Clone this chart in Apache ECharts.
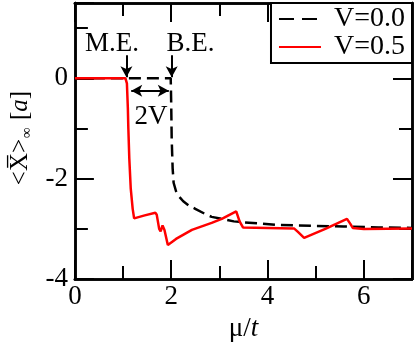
<!DOCTYPE html>
<html>
<head>
<meta charset="utf-8">
<script src="https://cdn.jsdelivr.net/npm/echarts@6/dist/echarts.min.js"></script>
<style>
	html, body { margin: 0; padding: 0; background: #fff; }
	#chart { width: 415px; height: 347px; }
</style>
</head>
<body>
<div id="chart"></div>
<script>
// V = 0.0 (black dashed)
const v00 = [
	[0, 0], [1.99, 0], [2.0, -0.5], [2.01, -1.2], [2.03, -1.8], [2.05, -2.08],
	[2.1, -2.25], [2.15, -2.34], [2.25, -2.45], [2.36, -2.53], [2.5, -2.6],
	[2.7, -2.7], [2.84, -2.76], [3.05, -2.8], [3.3, -2.85], [3.52, -2.87],
	[4.2, -2.92], [5.0, -2.94], [5.58, -2.95], [6.3, -2.97], [7.0, -2.98]
];

// V = 0.5 (red)
const v05 = [
	[0, 0], [1.05, 0], [1.08, -0.1], [1.1, -0.6], [1.11, -1.0], [1.13, -1.6],
	[1.16, -2.2], [1.2, -2.6], [1.23, -2.79], [1.45, -2.73], [1.67, -2.68],
	[1.7, -2.72], [1.75, -3.0], [1.78, -3.05], [1.82, -2.93], [1.86, -3.02],
	[1.93, -3.32], [2.1, -3.2], [2.43, -3.02], [2.84, -2.88], [3.05, -2.8],
	[3.35, -2.65], [3.42, -2.85], [3.49, -2.97], [4.0, -2.98], [4.55, -2.99],
	[4.62, -3.05], [4.76, -3.18], [5.2, -3.0], [5.65, -2.8], [5.72, -2.9],
	[5.77, -2.98], [6.0, -3.0], [7.0, -2.99]
];

// annotation arrows and texts, in data units
const arrowME = [[1.07, 0.46], [1.07, 0.02]];
const arrowBE = [[2.01, 0.46], [2.01, 0.02]];
const arrow2V = [[1.17, -0.25], [1.95, -0.25]];
const notes = [
	{ text: 'M.E.', at: [0.77, 0.68] },
	{ text: 'B.E.', at: [2.40, 0.68] },
	{ text: '2V', at: [1.58, -0.76] }
];

const FONT = 'Liberation Serif';
const INK = '#000';

function tickAxis(pos, interval, len, isX, extra) {
	const ax = {
		type: 'value',
		position: pos,
		min: isX ? 0 : -4,
		max: isX ? 7 : 1.5,
		interval: interval,
		axisLine: { show: true, onZero: false, lineStyle: { color: INK, width: 2.5 } },
		axisTick: { show: true, inside: true, length: len, lineStyle: { color: INK, width: 2 } },
		axisLabel: { show: false },
		splitLine: { show: false }
	};
	return Object.assign(ax, extra || {});
}

const chart = echarts.init(document.getElementById('chart'));

chart.setOption({
	animation: false,
	backgroundColor: '#fff',
	textStyle: { fontFamily: FONT },
	grid: { left: 72, right: 3, top: 3, bottom: 61, containLabel: false },
	legend: {
		top: 3,
		right: 3,
		orient: 'vertical',
		align: 'left',
		itemWidth: 42,
		itemHeight: 14,
		itemGap: 0,
		itemStyle: { opacity: 0 },
		padding: [2, 7, 2, 7],
		borderColor: INK,
		borderWidth: 2,
		backgroundColor: '#fff',
		textStyle: { fontFamily: FONT, fontSize: 28, color: INK, lineHeight: 27, padding: [0, 0, 0, 8] },
		data: [
			{ name: 'V=0.0', lineStyle: { type: [15, 8] } },
			{ name: 'V=0.5' }
		]
	},
	xAxis: [
		tickAxis('bottom', 2, 19, true, {
			axisLabel: {
				show: true, margin: 4, fontFamily: FONT, fontSize: 27, color: INK,
				formatter: v => (v === 7 ? '' : String(v))
			},
			name: 'μ/{it|t}',
			nameLocation: 'middle',
			nameGap: 32,
			nameTextStyle: {
				fontFamily: FONT, fontSize: 27, color: INK,
				rich: { it: { fontFamily: FONT, fontSize: 27, fontStyle: 'italic', color: INK } }
			}
		}),
		tickAxis('bottom', 1, 13, true),
		tickAxis('top', 2, 19, true),
		tickAxis('top', 1, 13, true)
	],
	yAxis: [
		tickAxis('left', 2, 19, false, {
			axisLabel: {
				show: true, margin: 7, fontFamily: FONT, fontSize: 27, color: INK,
				formatter: v => (v === 1.5 ? '' : String(v))
			},
			name: '<{ov|X\u0305}>{sub|∞} [{it|a}]',
			nameLocation: 'middle',
			nameRotate: 90,
			nameGap: 40,
			nameTextStyle: {
				fontFamily: FONT, fontSize: 25, color: INK, padding: [0, 0, 0, 6],
				rich: {
					ov: { fontFamily: FONT, fontSize: 25, color: INK },
					sub: { fontFamily: FONT, fontSize: 15, color: INK, verticalAlign: 'bottom', padding: [13, 1, 0, 1] },
					it: { fontFamily: FONT, fontSize: 25, fontStyle: 'italic', color: INK }
				}
			}
		}),
		tickAxis('left', 1, 13, false),
		tickAxis('right', 2, 19, false),
		tickAxis('right', 1, 13, false)
	],
	series: [
		{
			name: 'V=0.0',
			type: 'line',
			data: v00,
			showSymbol: false,
			symbol: 'none',
			lineStyle: { color: INK, width: 2.5, type: [12, 6] },
			itemStyle: { color: INK },
			markLine: {
				silent: true,
				symbol: ['none', 'arrow'],
				symbolSize: [9, 11],
				label: { show: false },
				lineStyle: { color: INK, width: 2, type: 'solid' },
				data: [
					[{ coord: arrowME[0] }, { coord: arrowME[1] }],
					[{ coord: arrowBE[0] }, { coord: arrowBE[1] }],
					[{ coord: arrow2V[0], symbol: 'arrow' }, { coord: arrow2V[1], symbol: 'arrow' }]
				]
			},
			markPoint: {
				silent: true,
				symbol: 'rect',
				symbolSize: 1,
				itemStyle: { color: 'rgba(0,0,0,0)' },
				label: {
					show: true, position: 'inside', fontFamily: FONT, fontSize: 27, color: INK,
					formatter: p => p.data.name
				},
				data: notes.map(n => ({ name: n.text, coord: n.at }))
			}
		},
		{
			name: 'V=0.5',
			type: 'line',
			data: v05,
			showSymbol: false,
			symbol: 'none',
			lineStyle: { color: '#ff0000', width: 2.5 },
			itemStyle: { color: '#ff0000' }
		}
	]
});
</script>
</body>
</html>
